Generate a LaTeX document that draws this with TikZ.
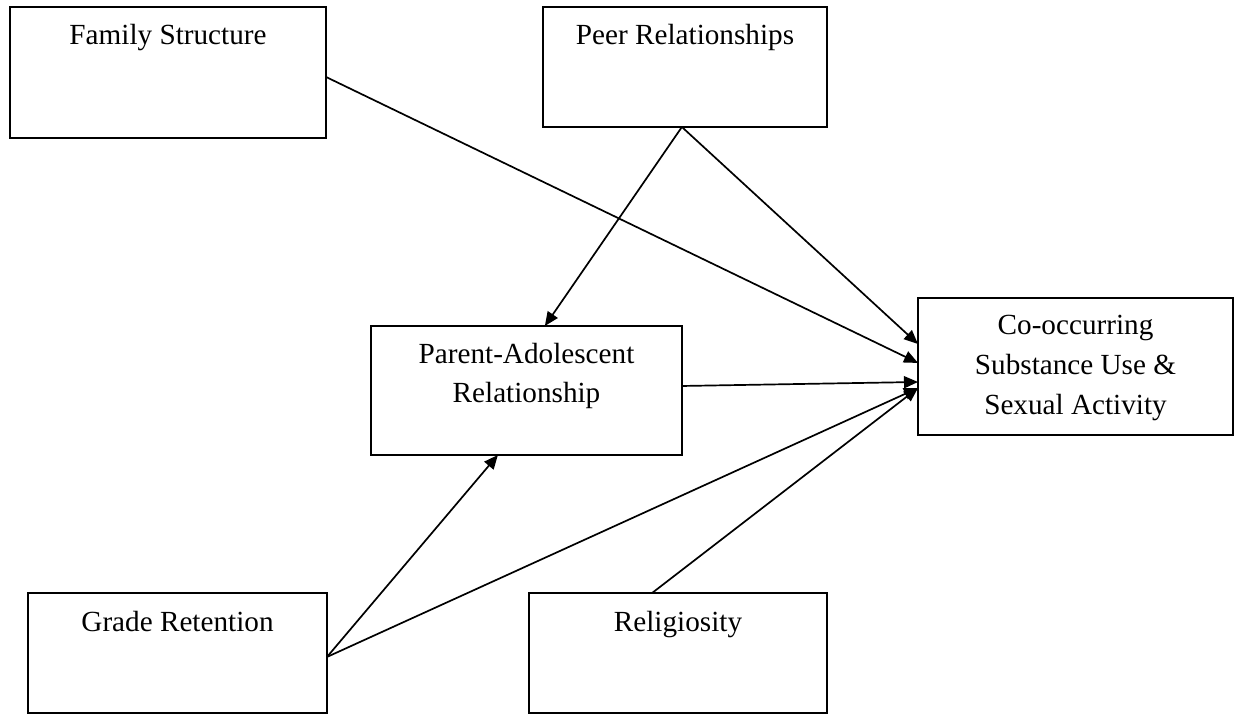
\documentclass[tikz,border=0pt]{standalone}
\usepackage{fontspec}
\setmainfont{Liberation Serif}
\usetikzlibrary{calc,arrows.meta}
\begin{document}
\begin{tikzpicture}[x=0.5pt,y=-0.5pt,
  box/.style={draw,line width=0.9pt,rectangle,anchor=north west,inner sep=0pt,outer sep=0pt},
  label/.style={anchor=base,inner sep=0pt,align=center,font=\fontsize{14.6}{20}\selectfont},
  link/.style={line width=0.85pt,-{Triangle[length=7pt,width=6pt]}}]
\useasboundingbox (0,0) rectangle (1240,715);

% boxes
\node[box,minimum width=158pt,minimum height=65.5pt] (fam) at (10,7) {};
\node[box,minimum width=142pt,minimum height=60pt] (peer) at (543,7) {};
\node[box,minimum width=155.5pt,minimum height=64.5pt] (par) at (371,326) {};
\node[box,minimum width=157.5pt,minimum height=68.5pt] (co) at (918,298) {};
\node[box,minimum width=149.5pt,minimum height=60pt] (grade) at (28,593) {};
\node[box,minimum width=149pt,minimum height=60pt] (rel) at (529,593) {};

% texts (the base anchor sits on the last line)
\node[label] (famT) at ($(fam.north)+(0,38)$) {Family Structure};
\node[label] (peerT) at ($(peer.north)+(0,38)$) {Peer Relationships};
\node[label] (parT) at ($(par.north)+(0,77)$) {Parent-Adolescent\\Relationship};
\node[label] (coT) at ($(co.north)+(0,117)$) {Co-occurring\\Substance Use \&\\Sexual Activity};
\node[label] (gradeT) at ($(grade.north)+(0,38)$) {Grade Retention};
\node[label] (relT) at ($(rel.north)+(0,38)$) {Religiosity};

% paths
\draw[link] ($(fam.north east)!0.534!(fam.south east)$) -- ($(co.north west)!0.474!(co.south west)$);
\draw[link] ($(peer.south west)!0.489!(peer.south east)$) -- ($(co.north west)!0.336!(co.south west)$);
\draw[link] ($(peer.south west)!0.489!(peer.south east)$) -- ($(par.north west)!0.559!(par.north east)$);
\draw[link] ($(par.north east)!0.465!(par.south east)$) -- ($(co.north west)!0.613!(co.south west)$);
\draw[link] ($(grade.north east)!0.533!(grade.south east)$) -- ($(par.south west)!0.408!(par.south east)$);
\draw[link] ($(grade.north east)!0.533!(grade.south east)$) -- ($(co.north west)!0.657!(co.south west)$);
\draw[link] ($(rel.north west)!0.413!(rel.north east)$) -- ($(co.north west)!0.657!(co.south west)$);
\end{tikzpicture}
\end{document}
